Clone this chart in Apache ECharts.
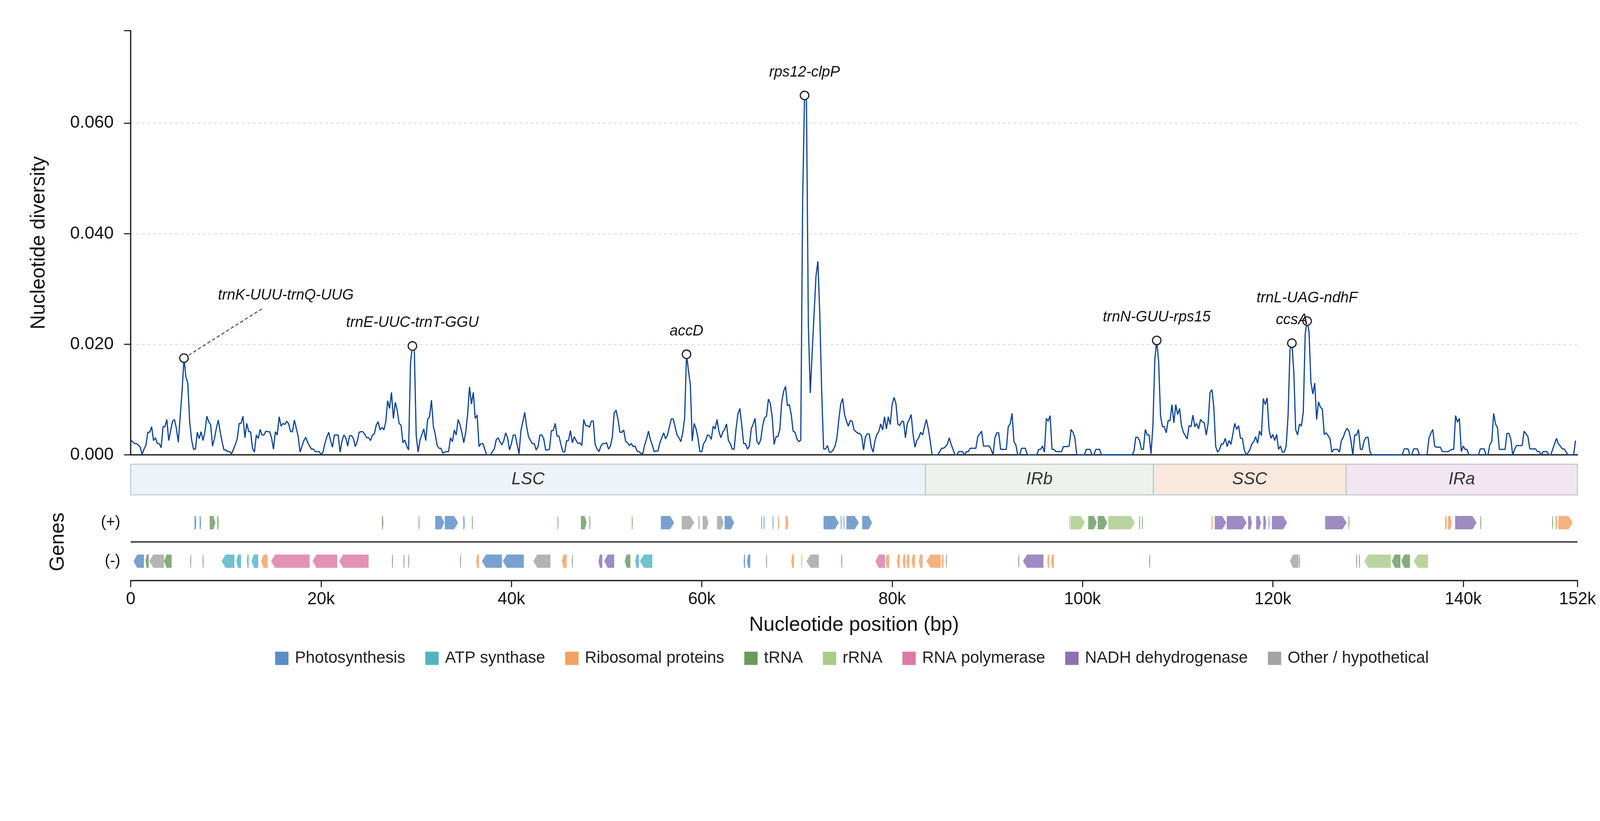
<!DOCTYPE html>
<html>
<head>
<meta charset="utf-8">
<title>Nucleotide diversity</title>
<script src="https://cdn.jsdelivr.net/npm/echarts@6.0.0/dist/echarts.min.js"></script>
<style>
  html, body { margin: 0; padding: 0; background: #fff; overflow: hidden; }
  #chart { width: 100vw; height: 100vh; }
</style>
</head>
<body>
<div id="chart"></div>
<script>
var FONT = '"Liberation Sans", Arial, sans-serif';

// sliding window step (bp)
var step = 200;
// nucleotide diversity (Pi x 1000), one value per window
var piValues = [
  2.7, 2.4, 2.05, 2.05, 1.8, 1.4, 0.1, 1.05, 1.7, 4.1,
  4.1, 5.1, 2.6, 3.1, 2.05, 2.05, 1.3, 5.1, 5.1, 6.4,
  2.6, 4.4, 6.1, 6.4, 4.8, 2.3, 6.9, 11.5, 17.5, 14.1,
  13.0, 6.0, 2.7, 1.05, 1.05, 4.1, 2.95, 4.2, 2.6, 4.2,
  7.0, 6.0, 5.5, 1.6, 2.95, 4.8, 6.3, 4.2, 2.4, 0.9,
  0.9, 0.6, 0.6, 0.2, 1.05, 1.9, 2.95, 5.7, 5.7, 7.0,
  3.1, 5.7, 4.2, 4.2, 1.2, 0.5, 3.6, 2.95, 4.6, 3.6,
  3.6, 4.3, 4.2, 4.2, 3.1, 1.05, 4.2, 3.6, 6.9, 5.2,
  5.7, 5.5, 6.1, 5.6, 4.2, 4.2, 6.3, 4.8, 3.3, 0.5,
  1.6, 2.6, 3.2, 2.2, 1.6, 1.05, 1.05, 0.6, 0.6, 0.6,
  0.1, 0.5, 2.05, 3.2, 4.1, 2.6, 1.4, 3.6, 3.6, 3.6,
  0.5, 2.5, 3.6, 3.1, 1.6, 3.5, 3.5, 2.95, 1.5, 2.4,
  4.1, 4.2, 4.2, 3.7, 3.1, 3.1, 2.6, 3.6, 3.8, 5.4,
  6.0, 4.5, 5.0, 4.5, 6.0, 9.8, 8.4, 11.3, 6.6, 9.5,
  8.1, 5.7, 5.4, 2.2, 2.7, 1.6, 0.9, 16.7, 19.7, 18.9,
  3.5, 0.5, 2.7, 3.7, 4.7, 2.6, 6.4, 6.9, 9.9, 5.2,
  3.7, 1.7, 1.2, 1.2, 0.3, 0.5, 0.6, 0.6, 3.1, 2.4,
  4.5, 3.6, 6.4, 5.5, 4.0, 2.2, 4.1, 7.3, 12.3, 9.2,
  11.3, 6.6, 7.2, 1.5, 2.05, 2.05, 1.05, 0, 0, 0,
  0.6, 1.05, 2.7, 3.1, 2.4, 1.8, 2.6, 4.0, 3.1, 0.9,
  2.05, 3.6, 3.6, 1.9, 0.2, 4.4, 6.0, 7.7, 5.1, 3.3,
  2.6, 2.05, 2.05, 0.9, 1.5, 3.6, 3.6, 2.9, 0.9, 0.9,
  1.05, 4.4, 4.4, 5.7, 3.4, 3.4, 1.9, 0.6, 0.5, 2.6,
  2.6, 4.4, 2.2, 3.3, 2.6, 2.05, 2.2, 1.7, 6.4, 5.3,
  5.3, 5.0, 6.1, 6.1, 1.9, 1.05, 0.6, 1.6, 2.05, 2.05,
  2.2, 1.05, 1.6, 3.2, 7.6, 8.1, 6.4, 4.1, 4.1, 4.5,
  2.5, 2.2, 1.7, 2.05, 1.5, 1.6, 0.7, 0.6, 0.3, 0.2,
  1.8, 2.9, 4.3, 2.8, 1.8, 0.6, 0.7, 0.7, 2.2, 3.1,
  4.0, 2.9, 3.6, 5.1, 6.5, 6.5, 5.1, 3.6, 3.1, 2.4,
  4.0, 6.7, 18.2, 15.3, 12.7, 2.5, 5.7, 4.7, 3.1, 0.6,
  0.6, 2.05, 2.6, 3.6, 3.5, 2.8, 5.2, 4.7, 6.4, 4.3,
  3.1, 4.1, 4.6, 5.6, 2.6, 2.05, 1.05, 1.05, 4.7, 7.4,
  8.4, 5.4, 2.05, 2.05, 1.05, 1.6, 4.7, 5.6, 6.6, 2.4,
  1.9, 2.8, 5.3, 6.7, 7.0, 10.1, 9.3, 6.9, 1.9, 3.3,
  3.3, 4.6, 9.5, 11.5, 12.4, 8.9, 9.1, 7.3, 4.3, 4.1,
  2.9, 2.4, 2.7, 46.0, 65.0, 64.0, 23.5, 11.2, 18.5, 25.5,
  32.3, 35.0, 25.5, 11.5, 1.1, 1.05, 1.7, 0.5, 0.5, 0.9,
  1.6, 3.1, 6.4, 9.2, 10.2, 7.3, 6.1, 5.2, 6.2, 6.1,
  4.5, 4.2, 3.9, 3.9, 3.4, 0.9, 3.3, 3.8, 3.8, 1.5,
  0.5, 2.6, 3.7, 4.2, 5.6, 4.5, 6.9, 4.7, 6.9, 5.5,
  9.1, 10.4, 9.3, 5.6, 5.3, 6.0, 6.1, 3.1, 5.7, 6.4,
  7.3, 3.7, 1.4, 2.6, 3.1, 4.1, 3.6, 5.1, 6.4, 4.7,
  2.6, 0, 0, 0, 0, 0.6, 1.2, 1.2, 1.5, 1.9,
  3.1, 1.9, 1.0, 0, 0, 0.6, 0.6, 0.6, 0, 0.6,
  0.6, 1.2, 1.2, 1.2, 1.2, 3.3, 3.8, 4.3, 1.6, 1.6,
  1.6, 1.6, 1.0, 0, 3.1, 4.0, 4.0, 1.0, 1.0, 1.0,
  1.0, 5.1, 5.6, 7.5, 2.4, 1.8, 0, 0, 1.2, 1.2,
  1.2, 0, 0, 0, 0, 0, 0, 1.0, 1.0, 1.6,
  0.5, 6.6, 6.1, 7.1, 1.0, 1.0, 0.6, 0.6, 0.6, 0.6,
  1.5, 1.5, 1.5, 1.6, 4.6, 4.1, 3.1, 0, 0, 0,
  0, 0, 1.0, 1.0, 1.0, 0, 0, 1.0, 1.0, 1.0,
  0, 0, 0, 0, 0, 0, 0, 0, 0, 0,
  0, 0, 0, 0, 0, 0, 0, 0.6, 3.2, 3.2,
  2.6, 1.0, 1.0, 4.6, 3.6, 3.6, 0.2, 5.3, 17.2, 20.7,
  16.9, 7.1, 5.1, 5.1, 4.0, 6.2, 6.2, 9.1, 5.8, 9.1,
  7.3, 8.4, 5.3, 4.1, 3.5, 2.9, 5.3, 5.1, 7.2, 5.1,
  5.7, 4.7, 6.4, 6.0, 5.8, 3.6, 5.7, 11.3, 11.8, 8.6,
  1.5, 0.5, 1.0, 2.0, 2.0, 3.0, 1.5, 2.6, 1.9, 3.8,
  5.7, 4.6, 5.3, 3.0, 3.0, 0.9, 0, 0.4, 1.0, 2.0,
  2.4, 3.3, 2.1, 4.3, 3.5, 10.2, 9.1, 10.3, 4.6, 3.0,
  3.7, 2.6, 3.7, 1.0, 1.6, 0.5, 0.5, 1.6, 7.1, 19.0,
  20.2, 15.1, 4.6, 3.6, 5.6, 5.2, 7.8, 21.9, 24.2, 22.3,
  13.2, 11.0, 13.0, 6.4, 9.6, 8.6, 8.3, 3.7, 4.0, 3.5,
  3.0, 0.5, 1.0, 1.0, 1.0, 0.5, 2.6, 3.2, 4.2, 4.8,
  4.3, 2.6, 0, 3.6, 3.6, 4.6, 1.0, 1.0, 2.6, 3.2,
  3.2, 0.6, 0, 0, 0, 0, 0, 0, 0, 0,
  0, 0, 0, 0, 0, 0, 0, 0, 0, 1.1,
  1.1, 1.1, 0, 0, 1.1, 1.1, 1.1, 0, 0, 0,
  0, 0, 3.0, 3.9, 4.6, 1.6, 1.4, 1.4, 1.4, 0.6,
  0.6, 0.6, 0.6, 0.8, 1.0, 1.0, 7.1, 5.9, 6.6, 0.6,
  1.6, 1.0, 1.0, 0, 0, 0, 0, 0, 0, 1.1,
  1.1, 1.1, 0, 0, 1.9, 2.4, 7.5, 5.6, 4.9, 1.0,
  1.0, 1.0, 1.0, 3.9, 3.9, 2.9, 0, 1.0, 1.7, 1.7,
  1.7, 1.7, 4.3, 3.8, 3.3, 1.1, 1.1, 1.1, 1.1, 0.6,
  0.6, 0, 0.6, 0.6, 0.6, 0, 0, 1.0, 2.0, 3.0,
  2.0, 1.6, 1.1, 1.1, 0.6, 0, 0, 0, 0, 2.6
];

// highlighted peaks
var peakNames = ['trnK-UUU-trnQ-UUG', 'trnE-UUC-trnT-GGU', 'accD', 'rps12-clpP', 'trnN-GUU-rps15', 'ccsA', 'trnL-UAG-ndhF'];
var peakPos = [5600, 29600, 58400, 70800, 107800, 122000, 123600];

// genome regions
var regionNames = ['LSC', 'IRb', 'SSC', 'IRa'];
var regionStart = [0, 83500, 107450, 127700];
var regionEnd = [83500, 107450, 127700, 152000];
var regionColors = ['#eef3f7', '#edf3eb', '#f9e9dc', '#f2e7f1'];

// gene categories
var categories = ['Photosynthesis', 'ATP synthase', 'Ribosomal proteins', 'tRNA', 'rRNA', 'RNA polymerase', 'NADH dehydrogenase', 'Other / hypothetical'];
var catColors = ['#5b8cc4', '#52b3c5', '#f2a163', '#6a9a5e', '#a9ca8a', '#dc7aa7', '#8a72b3', '#a3a3a3'];

// genes: [start kb, end kb, strand, category]
var genes = [
  [6.7, 6.9, '+', 0], [7.25, 7.4, '+', 0], [8.3, 8.9, '+', 3], [9.1, 9.25, '+', 3],
  [26.4, 26.55, '+', 3], [30.25, 30.35, '+', 3], [32.0, 32.95, '+', 0], [33.0, 34.4, '+', 0],
  [34.95, 35.1, '+', 0], [35.85, 35.95, '+', 3], [44.85, 44.95, '+', 3], [47.3, 47.9, '+', 3],
  [48.2, 48.3, '+', 3], [52.65, 52.75, '+', 3], [55.7, 57.1, '+', 0], [57.9, 59.2, '+', 7],
  [59.65, 59.8, '+', 7], [60.1, 60.7, '+', 7], [61.6, 62.3, '+', 7], [62.4, 63.4, '+', 0],
  [66.25, 66.35, '+', 0], [66.5, 66.6, '+', 0], [67.45, 67.55, '+', 0], [68.0, 68.15, '+', 2],
  [68.8, 69.1, '+', 2], [72.8, 74.4, '+', 0], [74.6, 74.7, '+', 0], [74.9, 75.0, '+', 0],
  [75.2, 76.5, '+', 0], [76.85, 77.9, '+', 0],
  [98.6, 98.7, '+', 4], [98.75, 100.25, '+', 4], [100.6, 101.5, '+', 3], [101.6, 102.6, '+', 3],
  [102.7, 105.5, '+', 4], [105.95, 106.05, '+', 3], [106.25, 106.35, '+', 3],
  [113.55, 113.7, '+', 2], [113.9, 115.1, '+', 6], [115.15, 117.25, '+', 6], [117.4, 117.8, '+', 6],
  [118.25, 118.75, '+', 6], [119.0, 119.3, '+', 6], [119.55, 119.65, '+', 0], [119.9, 121.5, '+', 6],
  [125.5, 127.75, '+', 6], [127.95, 128.05, '+', 3],
  [138.1, 138.3, '+', 2], [138.4, 138.8, '+', 2], [139.15, 141.4, '+', 6], [141.8, 141.9, '+', 3],
  [149.35, 149.45, '+', 3], [149.7, 149.9, '+', 2], [150.0, 151.5, '+', 2],

  [0.3, 1.4, '-', 0], [1.55, 1.9, '-', 3], [1.95, 3.5, '-', 7], [3.5, 4.3, '-', 3],
  [6.25, 6.35, '-', 3], [7.55, 7.65, '-', 3], [9.55, 10.9, '-', 1], [11.1, 11.6, '-', 1],
  [12.2, 12.4, '-', 1], [12.7, 13.4, '-', 1], [13.7, 14.4, '-', 2], [14.75, 18.8, '-', 5],
  [19.1, 21.7, '-', 5], [21.9, 25.0, '-', 5], [27.45, 27.55, '-', 0], [28.65, 28.75, '-', 3],
  [29.15, 29.25, '-', 3], [34.6, 34.7, '-', 3], [36.3, 36.6, '-', 2], [36.9, 39.0, '-', 0],
  [39.1, 41.3, '-', 0], [42.3, 44.1, '-', 7], [45.3, 45.8, '-', 2], [46.35, 46.45, '-', 3],
  [49.15, 49.55, '-', 6], [49.75, 50.8, '-', 6], [51.9, 52.5, '-', 3], [53.0, 53.4, '-', 1],
  [53.5, 54.8, '-', 1], [64.4, 64.55, '-', 0], [64.75, 65.1, '-', 0], [66.75, 66.85, '-', 3],
  [69.4, 69.7, '-', 2], [70.45, 70.55, '-', 2], [71.0, 72.3, '-', 7], [74.65, 74.75, '-', 0],
  [78.25, 79.25, '-', 5], [79.3, 79.7, '-', 2], [80.5, 80.8, '-', 2], [81.1, 81.4, '-', 2],
  [81.5, 81.8, '-', 2], [82.05, 82.4, '-', 2], [82.8, 83.2, '-', 2], [83.6, 85.1, '-', 2],
  [85.2, 85.4, '-', 2], [85.65, 85.75, '-', 3], [93.25, 93.35, '-', 3], [93.75, 95.9, '-', 6],
  [96.3, 96.5, '-', 2], [96.7, 97.0, '-', 2], [107.0, 107.1, '-', 3], [121.8, 122.7, '-', 7],
  [122.75, 122.85, '-', 3], [128.75, 128.85, '-', 3], [129.05, 129.15, '-', 3], [129.6, 132.4, '-', 4],
  [132.5, 133.4, '-', 3], [133.5, 134.4, '-', 3], [134.8, 136.3, '-', 4]
];

// the first peak label sits off to the side with a leader line
var callout = { name: 'trnK-UUU-trnQ-UUG', text: [16300, 0.0290], elbow: [13950, 0.0266] };

// layout was measured on a 4322 px wide picture; scale to the real viewport
var S = (window.innerWidth || 4322) / 4322;
function px(v) { return v * S; }

var chart = echarts.init(document.getElementById('chart'));

var diversityData = piValues.map(function (v, i) { return [i * step, v / 1000]; });

var peakData = peakNames.map(function (name, i) {
  var k = Math.round(peakPos[i] / step);
  var item = { name: name, value: [k * step, piValues[k] / 1000] };
  if (name === callout.name) item.label = { show: false };
  return item;
});
var calloutPeak = peakData[peakNames.indexOf(callout.name)].value;

function renderGene(params, api) {
  var lane = api.value(2);
  var a = api.coord([api.value(0), lane]);
  var b = api.coord([api.value(1), lane]);
  var h = px(36), y = a[1];
  var x0 = a[0], x1 = Math.max(b[0], a[0] + px(2.5));
  var head = Math.min(px(11), (x1 - x0) * 0.35);
  var pts = lane === 1
    ? [[x0, y - h / 2], [x1 - head, y - h / 2], [x1, y], [x1 - head, y + h / 2], [x0, y + h / 2]]
    : [[x1, y - h / 2], [x0 + head, y - h / 2], [x0, y], [x0 + head, y + h / 2], [x1, y + h / 2]];
  return {
    type: 'polygon',
    shape: { points: pts },
    style: { fill: api.visual('color'), opacity: 0.82 }
  };
}

var geneSeries = categories.map(function (name, ci) {
  return {
    name: name,
    type: 'custom',
    xAxisIndex: 2,
    yAxisIndex: 2,
    itemStyle: { color: catColors[ci] },
    encode: { x: [0, 1], y: 2 },
    renderItem: renderGene,
    silent: true,
    z: 3,
    data: genes.filter(function (g) { return g[3] === ci; }).map(function (g) {
      return [g[0] * 1000, g[1] * 1000, g[2] === '+' ? 1 : 0];
    })
  };
});

var axisLineStyle = { color: '#222', width: px(3.5) };
var annotFont = { fontStyle: 'italic', fontSize: px(40), color: '#111', fontFamily: FONT };

var option = {
  animation: false,
  backgroundColor: '#fff',
  textStyle: { fontFamily: FONT },
  grid: [
    { left: px(353), right: px(61), top: px(83), height: px(1146) },
    { left: px(353), right: px(61), top: px(1254), height: px(83) },
    { left: px(353), right: px(61), top: px(1360), height: px(208) }
  ],
  legend: {
    data: categories,
    left: px(738),
    top: px(1751),
    icon: 'rect',
    itemWidth: px(36),
    itemHeight: px(36),
    itemGap: px(54),
    selectedMode: false,
    textStyle: { fontSize: px(44), color: '#222', fontFamily: FONT, padding: [0, 0, 0, px(12)] }
  },
  xAxis: [
    {
      type: 'value', gridIndex: 0, min: 0, max: 152000,
      axisLine: { show: true, lineStyle: axisLineStyle },
      axisTick: { show: false }, axisLabel: { show: false }, splitLine: { show: false }
    },
    {
      type: 'value', gridIndex: 1, min: 0, max: 152000, show: false
    },
    {
      type: 'value', gridIndex: 2, min: 0, max: 152000, interval: 20000,
      axisLine: { show: true, lineStyle: axisLineStyle },
      axisTick: { show: true, length: px(18), lineStyle: { color: '#222', width: px(3) } },
      axisLabel: {
        fontSize: px(46), color: '#111', margin: px(28),
        formatter: function (v) { return v === 0 ? '0' : (v / 1000) + 'k'; }
      },
      splitLine: { show: false },
      name: 'Nucleotide position (bp)',
      nameLocation: 'middle',
      nameGap: px(94),
      nameTextStyle: { fontSize: px(54), color: '#111' }
    }
  ],
  yAxis: [
    {
      type: 'value', gridIndex: 0, min: 0, max: 0.0767, interval: 0.02,
      axisLine: { show: true, lineStyle: axisLineStyle },
      axisTick: { show: true, length: px(18), lineStyle: { color: '#222', width: px(3) } },
      axisLabel: {
        fontSize: px(47), color: '#111', margin: px(46),
        formatter: function (v) {
          var r = v / 0.02;
          return Math.abs(r - Math.round(r)) < 1e-6 ? v.toFixed(3) : '';
        }
      },
      splitLine: {
        show: true, showMinLine: false, showMaxLine: false,
        lineStyle: { color: '#d7dde4', width: px(2.5), type: [px(8), px(7)] }
      },
      name: 'Nucleotide diversity',
      nameLocation: 'middle',
      nameGap: px(221),
      nameTextStyle: { fontSize: px(54), color: '#111' }
    },
    {
      type: 'value', gridIndex: 1, min: 0, max: 1, show: false
    },
    {
      type: 'category', gridIndex: 2, data: ['(-)', '(+)'],
      axisLine: { show: false }, axisTick: { show: false },
      axisLabel: { fontSize: px(42), color: '#111', margin: px(28) },
      splitLine: {
        show: true, showMinLine: false, showMaxLine: false,
        lineStyle: { color: '#333', width: px(3.5) }
      },
      name: 'Genes',
      nameLocation: 'middle',
      nameGap: px(169),
      nameTextStyle: { fontSize: px(54), color: '#111' }
    }
  ],
  series: [
    {
      name: 'Pi',
      type: 'line',
      xAxisIndex: 0,
      yAxisIndex: 0,
      data: diversityData,
      showSymbol: false,
      symbol: 'none',
      silent: true,
      lineStyle: { color: '#0e4597', width: px(3.2) },
      z: 2
    },
    {
      type: 'line',
      xAxisIndex: 0,
      yAxisIndex: 0,
      data: [calloutPeak, callout.elbow],
      symbol: 'none',
      silent: true,
      lineStyle: { color: '#444', width: px(2.6), type: [px(9), px(6)] },
      z: 4
    },
    {
      type: 'scatter',
      xAxisIndex: 0,
      yAxisIndex: 0,
      data: peakData,
      symbolSize: px(23),
      silent: true,
      itemStyle: { color: '#fff', borderColor: '#222', borderWidth: px(3.2), opacity: 1 },
      label: Object.assign({ show: true, position: 'top', distance: px(29), formatter: '{b}' }, annotFont),
      z: 5
    },
    {
      // label only: the point is the label centre, the offset pulls the text back onto it
      type: 'scatter',
      xAxisIndex: 0,
      yAxisIndex: 0,
      data: [{ name: callout.name, value: callout.text }],
      symbol: 'circle',
      symbolSize: 1,
      silent: true,
      itemStyle: { color: '#fff', opacity: 1 },
      label: Object.assign({ show: true, position: 'top', distance: 0, offset: [0, px(23)], formatter: '{b}' }, annotFont),
      z: 5
    },
    {
      type: 'custom',
      xAxisIndex: 1,
      yAxisIndex: 1,
      silent: true,
      encode: { x: [0, 1] },
      data: regionNames.map(function (n, i) { return [regionStart[i], regionEnd[i], i]; }),
      renderItem: function (params, api) {
        var a = api.coord([api.value(0), 0]);
        var b = api.coord([api.value(1), 1]);
        var i = api.value(2);
        return {
          type: 'group',
          children: [
            {
              type: 'rect',
              shape: { x: a[0], y: b[1], width: b[0] - a[0], height: a[1] - b[1] },
              style: { fill: regionColors[i], stroke: '#bcc5cf', lineWidth: px(2.7) }
            },
            {
              type: 'text',
              style: {
                text: regionNames[i], x: (a[0] + b[0]) / 2, y: (a[1] + b[1]) / 2,
                align: 'center', verticalAlign: 'middle',
                fontStyle: 'italic', fontSize: px(46), fontFamily: FONT, fill: '#333'
              }
            }
          ]
        };
      }
    }
  ].concat(geneSeries)
};

chart.setOption(option);
</script>
</body>
</html>
